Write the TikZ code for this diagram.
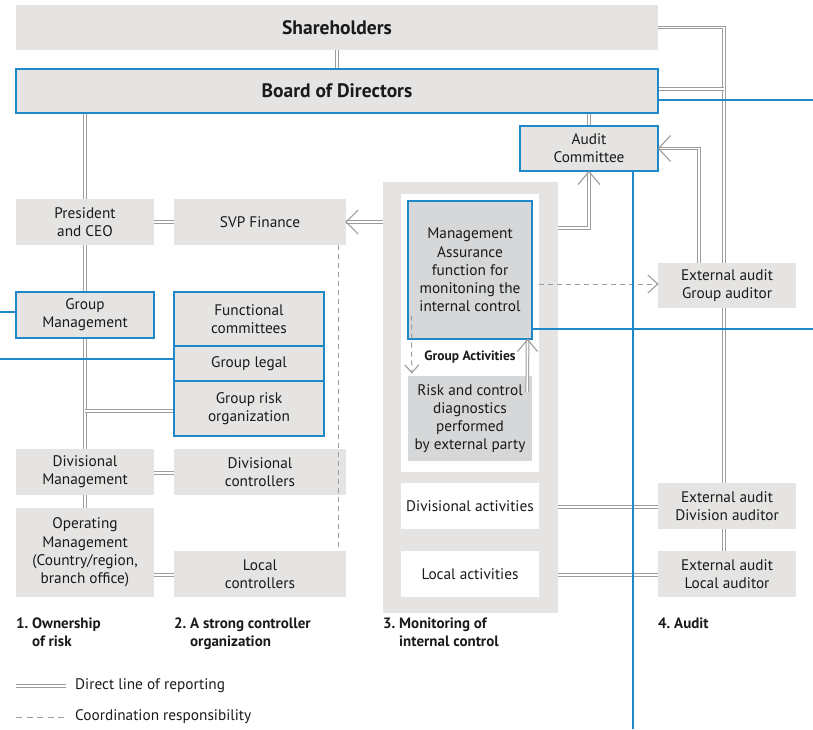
\documentclass[tikz,border=0pt]{standalone}
\usepackage{fontspec}
\setmainfont{PT Sans}
\usetikzlibrary{calc}
\definecolor{boxgray}{HTML}{E5E4E2}
\definecolor{bgray}{HTML}{D5D7D9}
\definecolor{lblue}{RGB}{30,136,200}
\definecolor{lgray}{HTML}{9C9C9C}
\definecolor{txt}{HTML}{1A1A1A}
\pgfdeclarelayer{bg}
\pgfsetlayers{bg,main}
\begin{document}
\begin{tikzpicture}[x=1pt,y=-1pt,
  font=\fontsize{15.3}{18.2}\selectfont, text=txt,
  box/.style={fill=boxgray, inner sep=0pt, align=center, text=txt},
  bbox/.style={box, draw=lblue, line width=1.1pt},
  wbox/.style={box, fill=white},
  wh/.style 2 args={minimum width=#1pt, minimum height=#2pt},
  dbl/.style={draw=lgray, line width=1pt, double=white, double distance=1.6pt},
  dsh/.style={draw=lgray, line width=1pt, dash pattern=on 5pt off 4pt},
  chev/.style={draw=lgray, line width=1.1pt},
  bl/.style={draw=lblue, line width=1.4pt},
  lab/.style={font=\fontsize{15}{17.5}\selectfont\bfseries, anchor=north west, align=left, inner sep=0pt},
  leg/.style={anchor=west, inner sep=0pt, text=txt}]
\useasboundingbox (0,0) rectangle (813,729);
% monitoring frame
\node[box, wh={175}{431}] (mon) at (470.5,397.5) {};
\node[wbox, wh={138}{278}] (grp) at (470,333) {};
% boxes
\node[box, wh={642}{45}, font=\fontsize{19.5}{22}\selectfont\bfseries] (sh) at (337,27.5) {Shareholders};
\node[bbox, wh={642}{44}, font=\fontsize{19.5}{22}\selectfont\bfseries] (bod) at (337,91) {Board of Directors};
\node[bbox, wh={138}{45}] (ac) at (589,148.5) {Audit\\Committee};
\node[box, wh={138}{46}] (pres) at (85,222) {President\\and CEO};
\node[box, wh={172}{46}] (svp) at (260,222) {SVP Finance};
\node[bbox, wh={138}{46}] (gm) at (85,315) {Group\\Management};
\node[bbox, wh={150}{54}] (fc) at (249,319) {Functional\\committees};
\node[bbox, wh={150}{35}] (gl) at (249,363.5) {Group legal};
\node[bbox, wh={150}{55}] (gr) at (249,408.5) {Group risk\\organization};
\node[box, wh={138}{46}] (dm) at (85,472) {Divisional\\Management};
\node[box, wh={172}{46}] (dc) at (260,472) {Divisional\\controllers};
\node[box, wh={138}{89}] (om) at (85,552.5) {Operating\\Management\\(Country/region,\\branch office)};
\node[box, wh={172}{46}] (lc) at (260,574) {Local\\controllers};
\node[bbox, fill=bgray, wh={124}{138}] (ma) at (470,270) {Management\\Assurance\\function for\\monitoning the\\internal control};
\node[box, fill=bgray, wh={124}{85}] (rc) at (470,418.5) {Risk and control\\diagnostics\\performed\\by external party};
\node[font=\fontsize{13.5}{15}\selectfont\bfseries, inner sep=0pt] (gact) at (470,357) {Group Activities};
\node[wbox, wh={138}{46}] (da) at (470,506) {Divisional activities};
\node[wbox, wh={138}{46}] (la) at (470,574) {Local activities};
\node[box, wh={138}{45}] (ga) at (727,285.5) {External audit\\Group auditor};
\node[box, wh={138}{46}] (dv) at (727,506) {External audit\\Division auditor};
\node[box, wh={138}{46}] (lo) at (727,574) {External audit\\Local auditor};
% helper coordinates
\coordinate (vx) at (724,0);
\coordinate (vx2) at (699,0);
\coordinate (E) at (813,0);
\coordinate (W) at (0,0);
\coordinate (S) at (0,729);
% background double lines
\begin{pgfonlayer}{bg}
\draw[dbl] (sh.south) -- (bod.north);
\draw[dbl] (ac.north |- bod.south) -- (ac.north);
\draw[dbl] (pres.north |- bod.south) -- (om.north);
\draw[dbl] (sh.east) -| (vx |- lo.north);
\draw[dbl] ([yshift=2pt]bod.east) -- ([yshift=2pt]bod.east -| vx);
\draw[dbl] (vx2 |- ga.north) |- (ac.east);
\draw[dbl] (pres.east) -- (svp.west);
\draw[dbl] ([yshift=-2.5pt]gr.west -| pres.north) -- ([yshift=-2.5pt]gr.west);
\draw[dbl] ([yshift=-1pt]dm.east) -- ([yshift=-1pt]dc.west);
\draw[dbl] ([yshift=-1pt]lc.west -| om.east) -- ([yshift=-1pt]lc.west);
\end{pgfonlayer}
% other double lines
\draw[dbl] ([yshift=-46pt]mon.north east) -| (ac.south);
\draw[dbl] (svp.east -| mon.west) -- (svp.east);
\draw[dbl] ([yshift=-1pt]da.east -| mon.east) -- ([yshift=-1pt]dv.west);
\draw[dbl] ([yshift=-1pt]la.east -| mon.east) -- ([yshift=-1pt]lo.west);
\draw[dbl] ([xshift=-5pt,yshift=-16pt]rc.north east) -- ([xshift=-5pt]ma.south east);
% chevrons
\draw[chev] ($(ac.south)+(-11,13)$) -- (ac.south) -- ($(ac.south)+(11,13)$);
\draw[chev] ($(ac.east)+(12,-13)$) -- (ac.east) -- ($(ac.east)+(12,13)$);
\draw[chev] ($(svp.east)+(12,-12)$) -- (svp.east) -- ($(svp.east)+(12,12)$);
\draw[chev] ($([xshift=-5pt]ma.south east)+(-10,12)$) -- ([xshift=-5pt]ma.south east) -- ($([xshift=-5pt]ma.south east)+(10,12)$);
% dashed lines
\draw[dsh] ([xshift=-8pt]svp.south east) -- ([xshift=-8pt]lc.north east);
\draw[dsh] ([yshift=1.5pt]ga.west -| grp.east) -- ([yshift=1.5pt]ga.west);
\draw[chev] ($([yshift=1.5pt]ga.west)+(-10,-9)$) -- ([yshift=1.5pt]ga.west) -- ($([yshift=1.5pt]ga.west)+(-10,9)$);
\draw[dsh] ([xshift=4pt,yshift=24pt]ma.south west) -- ([xshift=4pt,yshift=3pt]rc.north west);
\draw[chev] ($([xshift=4pt,yshift=3pt]rc.north west)+(-7,-8)$) -- ([xshift=4pt,yshift=3pt]rc.north west) -- ($([xshift=4pt,yshift=3pt]rc.north west)+(7,-8)$);
% blue lines
\draw[bl] ([yshift=-9pt]bod.east) -- ([yshift=-9pt]bod.east -| E);
\draw[bl] ([xshift=44pt]ac.south) -- ([xshift=44pt]ac.south |- S);
\draw[bl] ([yshift=10.5pt]ma.south east) -- ([yshift=10.5pt]ma.south east -| E);
\draw[bl] ([yshift=3pt]gm.west) -- ([yshift=3pt]gm.west -| W);
\draw[bl] ([yshift=4.5pt]gl.west) -- ([yshift=4.5pt]gl.west -| W);
% column labels
\node[lab] (c1) at (16,618) {1.~Ownership\\\phantom{1.~}of risk};
\node[lab] (c2) at (174,618) {2.~A strong controller\\\phantom{2.~}organization};
\node[lab] (c3) at (383,618) {3.~Monitoring of\\\phantom{3.~}internal control};
\node[lab] (c4) at (658,618) {4.~Audit};
% legend
\coordinate (l1a) at (16,686);
\coordinate (l1b) at (66,686);
\coordinate (l2a) at (16,717);
\coordinate (l2b) at (66,717);
\draw[dbl] (l1a) -- (l1b);
\draw[dsh, dash pattern=on 6pt off 4.5pt] (l2a) -- (l2b);
\node[leg] (t1) at (75,686) {Direct line of reporting};
\node[leg] (t2) at (75,717) {Coordination responsibility};
\end{tikzpicture}
\end{document}
